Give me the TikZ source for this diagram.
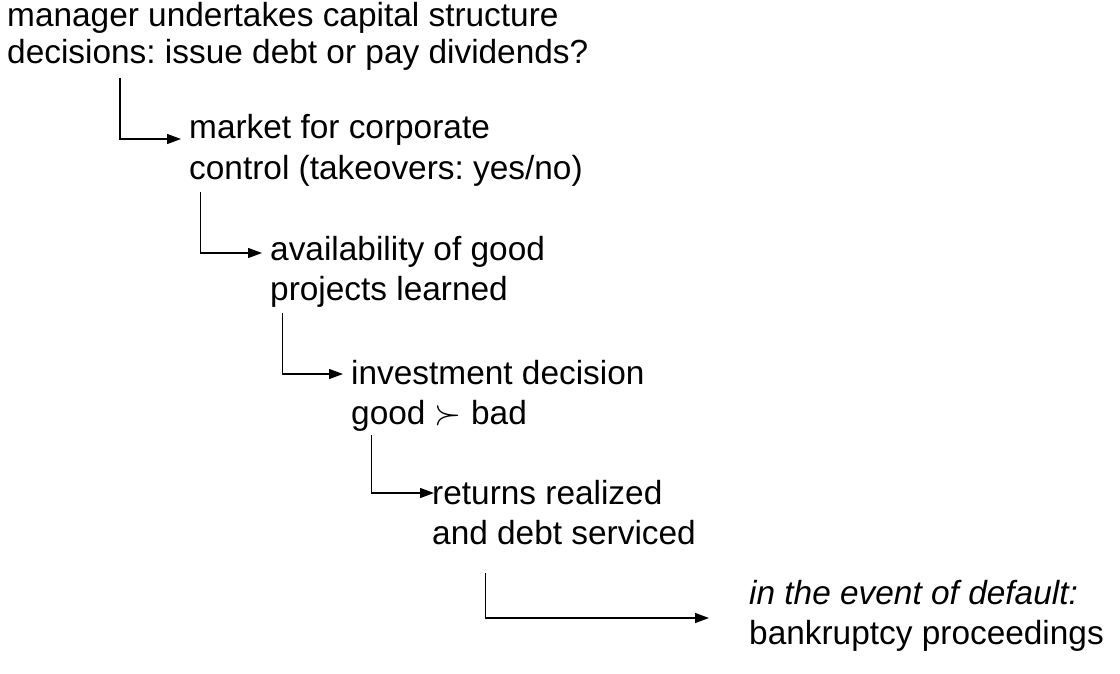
\documentclass[tikz,border=0pt]{standalone}
\usepackage{fontspec}
\setmainfont{Liberation Sans}
\usetikzlibrary{arrows.meta}
\frenchspacing
\begin{document}
\begin{tikzpicture}[x=1pt,y=-1pt,
  lbl/.style={anchor=base west,inner sep=0pt,align=left,font=\fontsize{33.4}{40}\selectfont},
  conn/.style={line width=1.3pt,-{Triangle[length=14pt,width=10pt]}}]
\useasboundingbox (0,0) rectangle (1120,674);
\node[lbl,font=\fontsize{33.4}{37.3}\selectfont] (n1) at (7,64) {manager undertakes capital structure\\decisions: issue debt or pay dividends?};
\node[lbl] (n2) at (189,179) {market for corporate\\control (takeovers: yes/no)};
\node[lbl] (n3) at (270,300) {availability of good\\projects learned};
\node[lbl] (n4) at (351,424) {investment decision\\good \scalebox{1.4}{$\succ$} bad};
\node[lbl] (n5) at (432,544) {returns realized\\and debt serviced};
\node[lbl] (n6) at (749,644) {\itshape in the event of default:\\bankruptcy proceedings};
\coordinate (c1) at (120,78);
\coordinate (c2) at (200.7,192);
\coordinate (c3) at (282.3,313);
\coordinate (c4) at (371.7,435);
\coordinate (c5) at (485.3,573);
\draw[conn] (c1) |- ([xshift=-8pt,yshift=40pt]n2.base west);
\draw[conn] (c2) |- ([xshift=-8pt,yshift=47pt]n3.base west);
\draw[conn] (c3) |- ([xshift=-8pt,yshift=50pt]n4.base west);
\draw[conn] (c4) |- ([xshift=2pt,yshift=51pt]n5.base west);
\draw[conn] (c5) |- ([xshift=-40pt,yshift=26pt]n6.base west);
\end{tikzpicture}
\end{document}
